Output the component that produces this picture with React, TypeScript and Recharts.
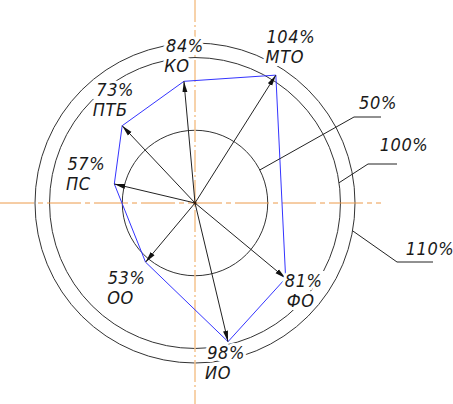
import { RadarChart, Radar, PolarGrid, PolarAngleAxis, PolarRadiusAxis } from 'recharts';

// направления осей (градусы, против часовой от оси X) и значения
const categories = ['МТО', 'КО', 'ПТБ', 'ПС', 'ОО', 'ИО', 'ФО'];
const directions = [57.7, 95.2, 133.3, 166.7, 230.1, 283.4, 320.3];
const values = [104, 84, 73, 57, 53, 98, 81];
const rings = [50, 100, 110];

const data = categories.map((name, i) => ({ name, angle: directions[i], value: values[i] }));

// смещения подписей относительно вершины: [значение, название]
const labelOffsets: Record<string, [number, number, number, number]> = {
  'МТО': [15, -39, 9, -19],
  'КО': [1, -36, -7, -16],
  'ПТБ': [-7, -36, -12, -16],
  'ПС': [-28, -20, -36, 0],
  'ОО': [-19, 15, -25, 35],
  'ИО': [-2, 11, -10, 31],
  'ФО': [18, 2, 15, 22],
};

// выноски для окружностей: угол точки на окружности, излом, длина полки, подпись
const leaders = [
  { ring: 50, at: 27, knee: [159, -86], shelf: 27, text: [183, -101] },
  { ring: 100, at: 8, knee: [173, -39], shelf: 29, text: [209, -59] },
  { ring: 110, at: -10, knee: [202, 59], shelf: 36, text: [235, 45] },
];

const font = "'DejaVu Sans Condensed', 'DejaVu Sans', sans-serif";

const Txt = ({ x, y, children }: any) => (
  <text
    x={x}
    y={y}
    textAnchor="middle"
    dominantBaseline="central"
    fontFamily={font}
    fontStyle="italic"
    fontWeight={300}
    fontSize={18}
    letterSpacing={0.6}
    fill="#1a1a1a"
    stroke="#fff"
    strokeWidth={6}
    paintOrder="stroke"
    style={{ paintOrder: 'stroke' }}
  >
    {children}
  </text>
);

const Drawing = (props: any) => {
  const points = props.points || [];
  if (!points.length) return null;
  const cx = points[0].cx ?? 195;
  const cy = points[0].cy ?? 203;
  const k = points[0].radius / points[0].value;
  const rad = Math.PI / 180;
  const poly = points.map((p: any) => `${p.x},${p.y}`).join(' ');
  return (
    <g>
      <defs>
        <marker id="arrowHead" markerWidth={11} markerHeight={6} refX={11} refY={3} orient="auto" markerUnits="userSpaceOnUse">
          <path d="M0,0.5 L11,3 L0,5.5 z" fill="#111" />
        </marker>
      </defs>
      <line x1={cx} y1={0} x2={cx} y2={404} stroke="#f5c38f" strokeWidth={1.5} strokeDasharray="22 3 2 3" />
      <line x1={0} y1={cy} x2={cx + 186} y2={cy} stroke="#ec9a4a" strokeWidth={1} strokeDasharray="34 4 5 4" />
      <polygon points={poly} fill="none" stroke="#3434ff" strokeWidth={1} />
      {points.map((p: any) => (
        <line key={p.payload.name} x1={cx} y1={cy} x2={p.x} y2={p.y} stroke="#222" strokeWidth={1} markerEnd="url(#arrowHead)" />
      ))}
      <circle cx={cx} cy={cy} r={1.5} fill="#3a1a00" />
      {leaders.map((l) => {
        const r = l.ring * k;
        const sx = cx + r * Math.cos(l.at * rad);
        const sy = cy - r * Math.sin(l.at * rad);
        const kx = cx + l.knee[0];
        const ky = cy + l.knee[1];
        return (
          <g key={l.ring}>
            <polyline points={`${sx},${sy} ${kx},${ky} ${kx + l.shelf},${ky}`} fill="none" stroke="#222" strokeWidth={1} />
            <Txt x={cx + l.text[0]} y={cy + l.text[1]}>{`${l.ring}%`}</Txt>
          </g>
        );
      })}
      {points.map((p: any) => {
        const o = labelOffsets[p.payload.name];
        return (
          <g key={'l' + p.payload.name}>
            <Txt x={p.x + o[0]} y={p.y + o[1]}>{`${p.value}%`}</Txt>
            <Txt x={p.x + o[2]} y={p.y + o[3]}>{p.payload.name}</Txt>
          </g>
        );
      })}
    </g>
  );
};

export default function App() {
  return (
    <div style={{ position: 'absolute', left: 0, top: 0, width: 453, height: 404, background: '#fff' }}>
      <RadarChart
        width={453}
        height={404}
        data={data}
        cx={195}
        cy={203}
        outerRadius={160}
        startAngle={0}
        endAngle={360}
        margin={{ top: 0, right: 0, bottom: 0, left: 0 }}
      >
        <PolarGrid gridType="circle" radialLines={false} stroke="#333" strokeWidth={1} />
        <PolarAngleAxis dataKey="angle" type="number" domain={[0, 360]} tick={false} axisLine={false} />
        <PolarRadiusAxis domain={[0, 110]} ticks={rings as any} tick={false} axisLine={false} />
        <Radar dataKey="value" isAnimationActive={false} shape={(p: any) => <Drawing {...p} />} />
      </RadarChart>
    </div>
  );
}
